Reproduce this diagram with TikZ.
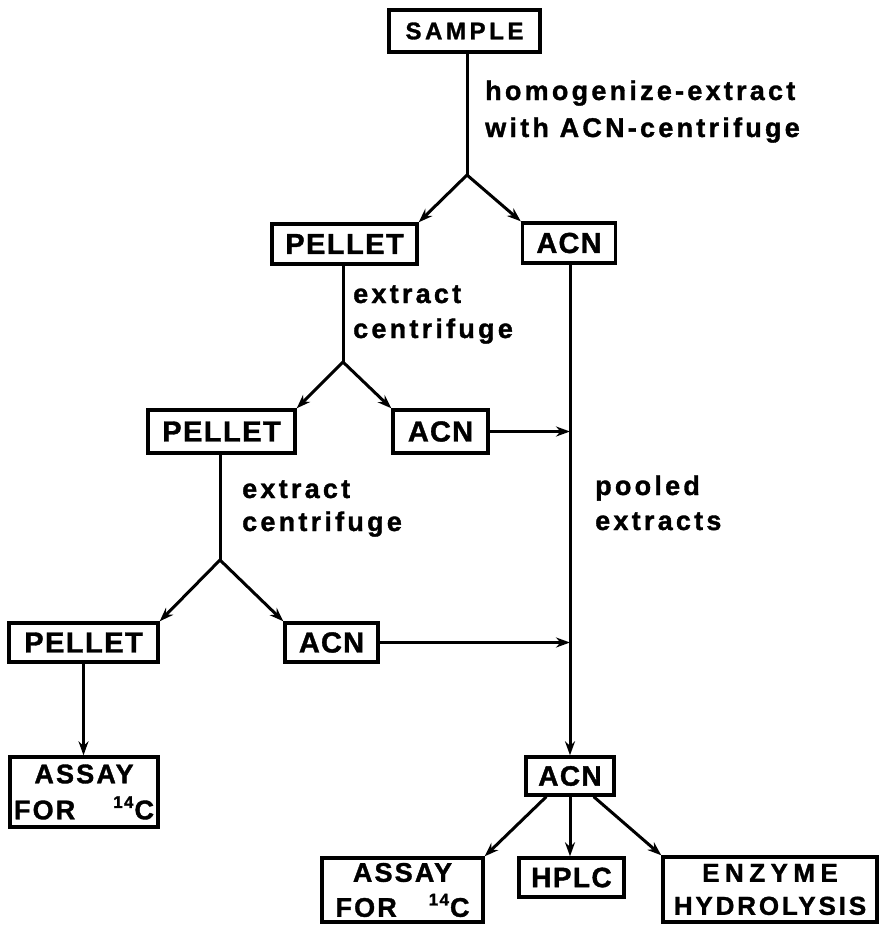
\documentclass[tikz,border=0pt]{standalone}
\usepackage{fontspec}
\setmainfont{Liberation Sans}[BoldFont={Liberation Sans Bold},BoldFeatures={FakeBold=1.3}]
\usetikzlibrary{arrows.meta,calc}
\newcommand{\fnt}[2]{\fontsize{#1}{#1}\selectfont\bfseries\addfontfeature{LetterSpace=#2}}
\newcommand{\isot}{\raisebox{0.42em}{\fontsize{17}{17}\selectfont 14}\hspace{1pt}}
\begin{document}
\begin{tikzpicture}[x=1pt,y=-1pt,
  box/.style={draw,line width=3.4pt,inner sep=0pt,anchor=center,align=center},
  conn/.style={line width=3pt},
  arr/.style={line width=3pt,-{Stealth[length=14pt,width=10pt]}},
  lab/.style={anchor=base west,inner sep=0pt,font={\fnt{27}{12}}}]
\path[use as bounding box] (0,0) rectangle (880,926);

% boxes
\node[box,minimum width=151pt,minimum height=42pt,font={\fnt{24}{15}}] (sample) at (464.5,31) {SAMPLE};
\node[box,minimum width=145pt,minimum height=40pt,font={\fnt{29}{5}}] (pellet1) at (344.5,244) {PELLET};
\node[box,minimum width=93pt,minimum height=40pt,font={\fnt{29}{4}}] (acn1) at (569,243) {ACN};
\node[box,minimum width=147pt,minimum height=43pt,font={\fnt{29}{5}}] (pellet2) at (221.5,431.5) {PELLET};
\node[box,minimum width=95pt,minimum height=43pt,font={\fnt{29}{4}}] (acn2) at (440.5,431.5) {ACN};
\node[box,minimum width=149pt,minimum height=39pt,font={\fnt{29}{5}}] (pellet3) at (83.5,642.5) {PELLET};
\node[box,minimum width=93pt,minimum height=39pt,font={\fnt{29}{4}}] (acn3) at (331.5,642.5) {ACN};
\node[box,minimum width=148pt,minimum height=70pt,font={\fnt{27}{8}}] (assay1) at (84,792)
  {ASSAY\\[9pt]\makebox[140pt]{FOR\hfill\isot C}};
\node[box,minimum width=88pt,minimum height=38pt,font={\fnt{28}{5}}] (acn4) at (570,776) {ACN};
\node[box,minimum width=161pt,minimum height=64pt,font={\fnt{27}{8}}] (assay2) at (402.5,890)
  {ASSAY\\[8pt]\makebox[134pt]{FOR\hfill\isot C}};
\node[box,minimum width=105pt,minimum height=39pt,font={\fnt{28}{5}}] (hplc) at (571.5,877.5) {HPLC};
\node[box,minimum width=214pt,minimum height=65pt,font={\fnt{26}{11}}] (enzyme) at (770,889.5)
  {{\addfontfeature{LetterSpace=21}ENZYME}\\[7pt]HYDROLYSIS};

% labels
\node[lab] (l1a) at (485,100) {homogenize-extract};
\node[lab] (l1b) at (485,137) {with ACN-centrifuge};
\node[lab] (l2a) at (353,303) {extract};
\node[lab] (l2b) at (353,338) {centrifuge};
\node[lab] (l3a) at (242,498) {extract};
\node[lab] (l3b) at (242,531) {centrifuge};
\node[lab] (l4a) at (595,495) {pooled};
\node[lab] (l4b) at (595,530) {extracts};

% branch points
\coordinate (b1) at (467,175);
\coordinate (b2) at (343,362);
\coordinate (b3) at (220,560);

% connectors
\draw[conn] (sample.south -| b1) -- (b1);
\draw[arr] (b1) -- (pellet1.north east);
\draw[arr] (b1) -- (acn1.north west);

\draw[conn] (pellet1.south -| b2) -- (b2);
\draw[arr] (b2) -- (pellet2.north east);
\draw[arr] (b2) -- (acn2.north west);

\draw[conn] (pellet2.south -| b3) -- (b3);
\draw[arr] (b3) -- (pellet3.north east);
\draw[arr] (b3) -- (acn3.north west);

\draw[arr] (acn1.south -| acn4.north) -- (acn4.north);
\draw[arr] (acn2.east) -- (acn2.east -| acn4.north);
\draw[arr] (acn3.east) -- (acn3.east -| acn4.north);

\draw[arr] (pellet3.south) -- (pellet3.south |- assay1.north);

\draw[arr] ([xshift=22pt]acn4.south west) -- (assay2.north east);
\draw[arr] (acn4.south) -- (acn4.south |- hplc.north);
\draw[arr] ([xshift=-22pt]acn4.south east) -- (enzyme.north west);
\end{tikzpicture}
\end{document}
